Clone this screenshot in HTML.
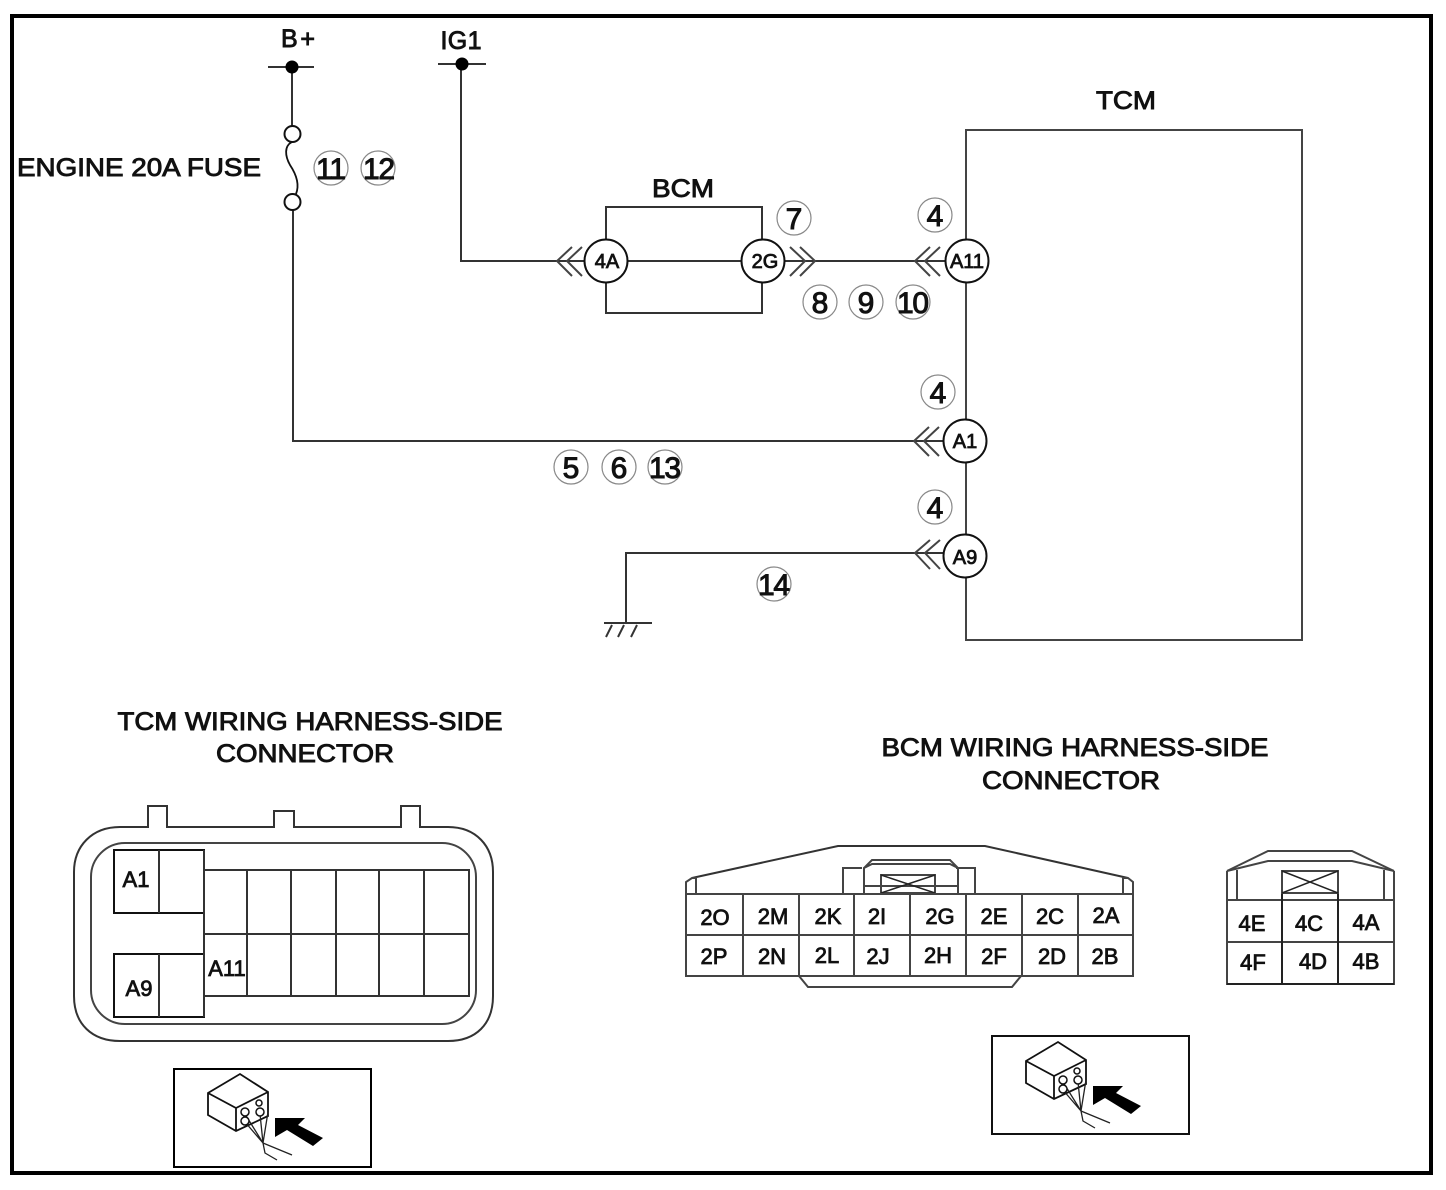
<!DOCTYPE html>
<html><head><meta charset="utf-8"><style>
html,body{margin:0;padding:0;background:#fff}
svg{display:block}
text{font-family:"Liberation Sans",sans-serif;fill:#111;text-anchor:middle}
.w{fill:none;stroke:#333;stroke-width:2}
.g{fill:none;stroke:#444;stroke-width:2}
.c{fill:#fff;stroke:#888;stroke-width:1.2}
.n{fill:#fff;stroke:#111;stroke-width:2}
.t{font-size:25px;stroke:#111;stroke-width:.9}
.nt{font-size:20px;stroke:#111;stroke-width:.8}
.ct{font-size:30px;stroke:#111;stroke-width:1}
.p{font-size:22px;stroke:#111;stroke-width:.8}
.ch{fill:none;stroke:#444;stroke-width:2}
.ic{fill:none;stroke:#111;stroke-width:1.800}
.iw{fill:none;stroke:#222;stroke-width:1.300}
.ih{fill:#fff;stroke:#111;stroke-width:1.500}
</style></head><body>
<svg width="1446" height="1190" viewBox="0 0 1446 1190" xmlns="http://www.w3.org/2000/svg">
<rect x="12" y="16" width="1419" height="1157" fill="none" stroke="#000" stroke-width="4"/>

<!-- wires -->
<path class="w" d="M268 67H314M292 67V127M293 210V441H944"/>
<circle cx="292" cy="67" r="6.500" fill="#000"/>
<circle class="n" cx="292.500" cy="134" r="8" stroke-width="1.500"/>
<circle class="n" cx="292.500" cy="202" r="8" stroke-width="1.500"/>
<path d="M292 142C284 146 285 156 290 165C296 174 300 184 296 194" fill="none" stroke="#111" stroke-width="1.800"/>
<path class="w" d="M438 64H486M461 64V261H585"/>
<circle cx="462" cy="64" r="6.500" fill="#000"/>
<rect class="w" x="606" y="207" width="156" height="106"/>
<path class="w" d="M628 261H742M785 261H915"/>
<rect class="g" x="966" y="130" width="336" height="510" stroke-width="1.500"/>
<path class="w" d="M915 261H946M914 441H944M914 553H944M626 624V553H914"/>
<path class="w" d="M604 623H652M606 637L612 625M618 637L624 625M631 637L637 625"/>

<!-- chevrons -->
<path class="ch" d="M572 247L557 261L572 276M582 247L567 261L582 276"/>
<path class="ch" d="M790 247L805 261L790 276M800 247L815 261L800 276"/>
<path class="ch" d="M930 247L915 261L930 276M940 247L925 261L940 276"/>
<path class="ch" d="M929 427L914 441L929 456M939 427L924 441L939 456"/>
<path class="ch" d="M930 540L915 553L930 569M940 540L925 553L940 569"/>

<!-- nodes -->
<g>
<circle class="n" cx="606" cy="261" r="21.500"/><text class="nt" x="607" y="268">4A</text>
<circle class="n" cx="763" cy="261" r="21.500"/><text class="nt" x="765" y="268">2G</text>
<circle class="n" cx="967" cy="261" r="21.500"/><text class="nt" x="967" y="268">A11</text>
<circle class="n" cx="965" cy="441" r="21.500"/><text class="nt" x="965" y="448">A1</text>
<circle class="n" cx="965" cy="556" r="21.500"/><text class="nt" x="965" y="564">A9</text>
</g>

<!-- numbered callouts -->
<g>
<circle class="c" cx="331" cy="168" r="17"/><text class="ct" x="331" y="179" textLength="30">11</text>
<circle class="c" cx="378" cy="168" r="17"/><text class="ct" x="379" y="179" textLength="32">12</text>
<circle class="c" cx="794" cy="218" r="17"/><text class="ct" x="794" y="229">7</text>
<circle class="c" cx="935" cy="215" r="17"/><text class="ct" x="935" y="226">4</text>
<circle class="c" cx="820" cy="302" r="17"/><text class="ct" x="820" y="313">8</text>
<circle class="c" cx="866" cy="302" r="17"/><text class="ct" x="866" y="313">9</text>
<circle class="c" cx="913" cy="302" r="17"/><text class="ct" x="913" y="313" textLength="32">10</text>
<circle class="c" cx="938" cy="392" r="17"/><text class="ct" x="938" y="403">4</text>
<circle class="c" cx="935" cy="507" r="17"/><text class="ct" x="935" y="518">4</text>
<circle class="c" cx="571" cy="467" r="17"/><text class="ct" x="571" y="478">5</text>
<circle class="c" cx="619" cy="467" r="17"/><text class="ct" x="619" y="478">6</text>
<circle class="c" cx="665" cy="467" r="17"/><text class="ct" x="665" y="478" textLength="32">13</text>
<circle class="c" cx="774" cy="584" r="17"/><text class="ct" x="774" y="595" textLength="32">14</text>
</g>

<!-- labels -->
<text class="t" x="298" y="47" textLength="34">B+</text>
<text class="t" x="461" y="49" textLength="41">IG1</text>
<text class="t" x="139" y="176" textLength="244" lengthAdjust="spacingAndGlyphs">ENGINE 20A FUSE</text>
<text class="t" x="683" y="197" textLength="62" lengthAdjust="spacingAndGlyphs">BCM</text>
<text class="t" x="1126" y="109" textLength="60" lengthAdjust="spacingAndGlyphs">TCM</text>
<text class="t" x="310" y="730" textLength="385" lengthAdjust="spacingAndGlyphs">TCM WIRING HARNESS-SIDE</text>
<text class="t" x="305" y="762" textLength="178" lengthAdjust="spacingAndGlyphs">CONNECTOR</text>
<text class="t" x="1075" y="756" textLength="387" lengthAdjust="spacingAndGlyphs">BCM WIRING HARNESS-SIDE</text>
<text class="t" x="1071" y="789" textLength="178" lengthAdjust="spacingAndGlyphs">CONNECTOR</text>

<!-- TCM connector -->
<path class="w" d="M120 827H148V806H167V827H274V811H294V827H401V806H420V827H448C476 827 493 846 493 872V996C493 1024 476 1041 448 1041H120C92 1041 74 1024 74 996V872C74 846 92 827 120 827Z"/>
<rect class="g" x="91" y="843" width="385" height="181" rx="34" fill="#fff"/>
<path class="w" d="M204 870H469V996H204M204 934H469M247 870V996M291 870V996M336 870V996M379 870V996M424 870V996"/>
<rect x="114" y="850" width="90" height="63" fill="#fff" stroke="#111" stroke-width="2"/>
<rect x="114" y="954" width="90" height="63" fill="#fff" stroke="#111" stroke-width="2"/>
<path class="w" d="M159 850V913M159 954V1017M204 850V1017"/>
<text class="p" x="136" y="887">A1</text>
<text class="p" x="139" y="996">A9</text>
<text class="p" x="227" y="976">A11</text>

<!-- Small connector icon 1 -->
<rect x="174" y="1069" width="197" height="98" fill="#fff" stroke="#000" stroke-width="2"/>
<g>
<path class="ic" d="M208 1093L240 1074L268 1092V1116L236 1131L208 1115ZM208 1093L236 1108L268 1092M236 1108V1131"/>
<path class="iw" d="M245 1114L263 1143M245 1122L263 1143M260 1114L263 1143M268 1112L263 1143M263 1143L265 1153L277 1160M263 1143L292 1155"/>
<circle class="ih" cx="245" cy="1112" r="4"/><circle class="ih" cx="260" cy="1112" r="4"/><circle class="ih" cx="245" cy="1121" r="4"/><circle class="ih" cx="259" cy="1103" r="3"/>
<path d="M275 1118H305L298 1125L323 1138L313 1146L287 1130L275 1137Z" fill="#000"/>
</g>

<!-- BCM connector -->
<path class="w" d="M692 878L838 846H985L1128 878"/>
<path class="g" d="M686 893V882L692 878H696V893M1133 893V882L1128 878H1123V893"/>
<path class="g" d="M843 893V868H862M975 893V868H956"/>
<path class="g" d="M864 893V868L872 860H950L958 868V893M864 874V868L872 864H950L958 868"/>
<path class="g" d="M864 886H958"/>
<rect class="g" x="881" y="875" width="54" height="18" fill="#fff"/>
<path d="M881 875L935 893M935 875L881 893" stroke="#222" stroke-width="1.500"/>
<path class="g" d="M686 894H1133V976H686ZM686 935H1133M743 894V976M799 894V976M854 894V976M910 894V976M966 894V976M1022 894V976M1078 894V976"/>
<path class="g" d="M799 976L808 987H1012L1021 976"/>
<g>
<text class="p" x="715" y="925">2O</text><text class="p" x="773" y="924">2M</text><text class="p" x="828" y="924">2K</text><text class="p" x="877" y="924">2I</text><text class="p" x="940" y="924">2G</text><text class="p" x="994" y="924">2E</text><text class="p" x="1050" y="924">2C</text><text class="p" x="1106" y="923">2A</text>
<text class="p" x="714" y="964">2P</text><text class="p" x="772" y="964">2N</text><text class="p" x="827" y="963">2L</text><text class="p" x="878" y="964">2J</text><text class="p" x="938" y="963">2H</text><text class="p" x="994" y="964">2F</text><text class="p" x="1052" y="964">2D</text><text class="p" x="1105" y="964">2B</text>
</g>

<!-- 4 connector -->
<path class="g" d="M1227 871L1268 851H1352L1394 871"/>
<path class="g" d="M1227 871L1268 861H1352L1394 871"/>
<path class="g" d="M1237 870V899M1384 870V899"/>
<path class="g" d="M1227 871V984H1394V871M1227 900H1394M1227 942H1394"/>
<path d="M1227 984H1394M1282 871V984M1338 871V984" fill="none" stroke="#222" stroke-width="2"/>
<rect class="g" x="1282" y="871" width="56" height="22" fill="#fff"/>
<path d="M1282 871L1338 893M1338 871L1282 893" stroke="#222" stroke-width="1.500"/>
<g>
<text class="p" x="1252" y="931">4E</text><text class="p" x="1309" y="931">4C</text><text class="p" x="1366" y="930">4A</text>
<text class="p" x="1253" y="970">4F</text><text class="p" x="1313" y="969">4D</text><text class="p" x="1366" y="969">4B</text>
</g>

<!-- Small connector icon 2 -->
<rect x="992" y="1036" width="197" height="98" fill="#fff" stroke="#111" stroke-width="2"/>
<g transform="translate(818,-32)">
<path class="ic" d="M208 1093L240 1074L268 1092V1116L236 1131L208 1115ZM208 1093L236 1108L268 1092M236 1108V1131"/>
<path class="iw" d="M245 1114L263 1143M245 1122L263 1143M260 1114L263 1143M268 1112L263 1143M263 1143L265 1153L277 1160M263 1143L292 1155"/>
<circle class="ih" cx="245" cy="1112" r="4"/><circle class="ih" cx="260" cy="1112" r="4"/><circle class="ih" cx="245" cy="1121" r="4"/><circle class="ih" cx="259" cy="1103" r="3"/>
<path d="M275 1118H305L298 1125L323 1138L313 1146L287 1130L275 1137Z" fill="#000"/>
</g>
</svg>
</body></html>
